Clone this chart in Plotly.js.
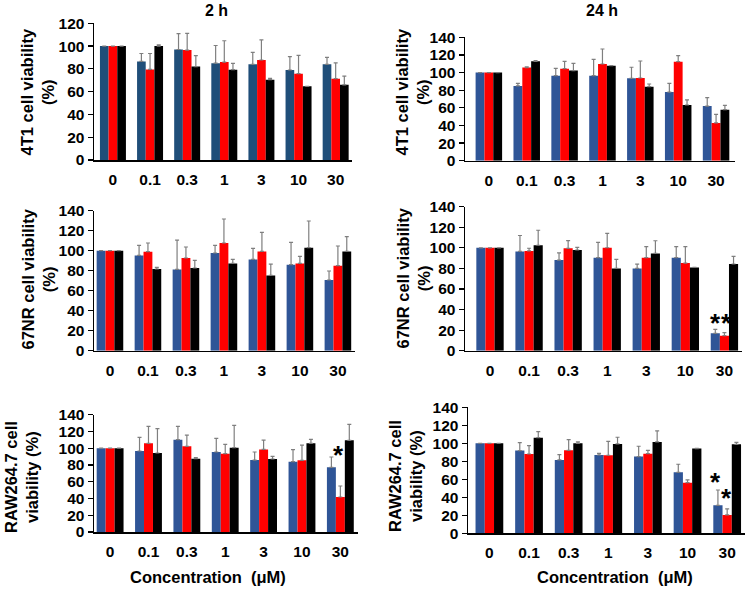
<!DOCTYPE html>
<html>
<head>
<meta charset="utf-8">
<script src="https://cdn.plot.ly/plotly-3.0.1.min.js"></script>
<style>html,body{margin:0;padding:0;background:#fff;}#chart{width:749px;height:591px;}</style>
</head>
<body>
<div id="chart"></div>
<script>
// ---------- data ----------
const categories = ['0', '0.1', '0.3', '1', '3', '10', '30'];

// 2 h, 4T1
const p1Blue = [100, 86.5, 97, 85, 84, 79, 84];
const p1BlueErr = [0, 7, 14, 15.5, 10.5, 11.7, 6];
const p1Red = [100, 79.5, 96.5, 86, 87.8, 75.8, 71.4];
const p1RedErr = [0, 14, 14.6, 18.7, 17.6, 16, 13.8];
const p1Black = [100, 100, 82, 79.3, 70.5, 64.7, 66];
const p1BlackErr = [0, 1, 9.7, 5.6, 1.2, 0, 7.6];

// 24 h, 4T1
const p2Blue = [100, 84.8, 96.5, 96.5, 93.5, 77.9, 62];
const p2BlueErr = [0, 3, 8.3, 18.5, 12.5, 9.8, 9.5];
const p2Red = [100, 105.6, 104.4, 109.7, 93.8, 112.4, 42.8];
const p2RedErr = [0, 1, 8.3, 17, 19.3, 6.8, 9.8];
const p2Black = [100, 112.7, 102.2, 107.8, 84, 63.2, 57.9];
const p2BlackErr = [0, 0.8, 8.3, 0, 3, 5.7, 4.9];

// 2 h, 67NR
const p3Blue = [100, 95.3, 81.3, 97.7, 91.3, 86, 70.7];
const p3BlueErr = [0, 10, 29.3, 7.7, 11, 22.3, 9];
const p3Red = [100, 99, 92.7, 107.7, 99.3, 87.3, 85];
const p3RedErr = [0, 8.7, 11, 24, 19, 7, 19.7];
const p3Black = [100, 81.7, 82.7, 87.3, 75.3, 103, 99.3];
const p3BlackErr = [0, 1.6, 7.6, 4, 11.3, 26.7, 14.7];

// 24 h, 67NR
const p4Blue = [100, 96.5, 88.1, 90.4, 80, 90.4, 16.9];
const p4BlueErr = [0, 15.5, 7.1, 14.9, 4.2, 10.7, 3.9];
const p4Red = [100, 97, 99.5, 100.1, 90.4, 85.2, 14.6];
const p4RedErr = [0, 2.6, 7.5, 14, 10.7, 15.9, 2.9];
const p4Black = [100, 102.5, 97.9, 80, 94.6, 81, 84.3];
const p4BlackErr = [0, 14.6, 2.6, 8.8, 12.3, 0, 7.5];

// 2 h, RAW264.7
const p5Blue = [100, 96.7, 110.2, 95.5, 85.9, 83.9, 77.2];
const p5BlueErr = [0, 16.3, 15.9, 16.3, 9.6, 14.3, 12.3];
const p5Red = [100, 105.8, 102.2, 93.5, 98.6, 85.5, 41.8];
const p5RedErr = [0, 20.3, 13.5, 11.1, 11.1, 18.3, 13.1];
const p5Black = [100, 94.3, 87.5, 100.6, 87.1, 105.8, 109.4];
const p5BlackErr = [0, 29, 1.2, 26.7, 3.2, 4.8, 19.1];

// 24 h, RAW264.7
const p6Blue = [100, 91.9, 81.5, 87, 85.2, 67.8, 31.1];
const p6BlueErr = [0, 8.9, 5.9, 1.9, 11.5, 8.9, 17];
const p6Red = [100, 88.1, 92.2, 86.7, 88.5, 56.3, 20.4];
const p6RedErr = [0, 9.3, 11.9, 15.5, 3.7, 3, 6.7];
const p6Black = [100, 106.3, 100, 99.3, 101.5, 94.1, 98.9];
const p6BlackErr = [0, 6.7, 1.5, 7.4, 12.2, 0.4, 2.2];

const yTitles = ['4T1 cell viability<br>(%)', '4T1 cell viability<br>(%)',
                 '67NR cell viability<br>(%)', '67NR cell viability<br>(%)',
                 'RAW264.7 cell<br>viability (%)', 'RAW264.7 cell<br>viability (%)'];
const colTitles = ['2 h', '24 h'];
const xTitle = 'Concentration  (\u03bcM)';
const yMax = [120, 140, 140, 140, 140, 140];

// significance stars: panel, category position, value
const stars = [
  {panel: 4, x: 5.78, y: 31.5},
  {panel: 4, x: 6.06, y: 31.5},
  {panel: 5, x: 5.95, y: 98},
  {panel: 6, x: 5.71, y: 63},
  {panel: 6, x: 5.99, y: 44.4}
];

// ---------- layout geometry (pixels) ----------
const W = 749, H = 591;
const panels = [
  {x0: 94, x1: 352, yt: 23.3, yb: 160, xr: [-0.51, 6.44]},
  {x0: 465, x1: 735, yt: 37.3, yb: 160.7, xr: [-0.63, 6.5]},
  {x0: 94, x1: 355, yt: 210.7, yb: 350.7, xr: [-0.42, 6.45]},
  {x0: 465, x1: 742, yt: 206.7, yb: 350.7, xr: [-0.64, 6.45]},
  {x0: 94, x1: 358, yt: 414.7, yb: 532, xr: [-0.42, 6.46]},
  {x0: 468, x1: 745, yt: 407.3, yb: 533.3, xr: [-0.54, 6.45]}
];
const blueCols = ['#1F4E79', '#2F5597', '#2F5597', '#2F5597', '#2F5597', '#2F5597'];

const seriesData = [
  [[p1Blue, p1BlueErr], [p1Red, p1RedErr], [p1Black, p1BlackErr]],
  [[p2Blue, p2BlueErr], [p2Red, p2RedErr], [p2Black, p2BlackErr]],
  [[p3Blue, p3BlueErr], [p3Red, p3RedErr], [p3Black, p3BlackErr]],
  [[p4Blue, p4BlueErr], [p4Red, p4RedErr], [p4Black, p4BlackErr]],
  [[p5Blue, p5BlueErr], [p5Red, p5RedErr], [p5Black, p5BlackErr]],
  [[p6Blue, p6BlueErr], [p6Red, p6RedErr], [p6Black, p6BlackErr]]
];

const FONT = 'Liberation Sans, Arial, sans-serif';
const traces = [];
const layout = {
  width: W, height: H,
  margin: {l: 0, r: 0, t: 0, b: 0},
  paper_bgcolor: '#ffffff', plot_bgcolor: '#ffffff',
  showlegend: false,
  barmode: 'group', bargap: 0.3, bargroupgap: 0,
  font: {family: FONT, color: '#000', size: 15},
  annotations: []
};

panels.forEach((p, i) => {
  const n = i + 1;
  const xa = 'x' + (n === 1 ? '' : n), ya = 'y' + (n === 1 ? '' : n);
  const colors = [blueCols[i], '#FF0000', '#000000'];
  seriesData[i].forEach((s, k) => {
    traces.push({
      type: 'bar', x: categories, y: s[0], xaxis: xa, yaxis: ya,
      marker: {color: colors[k], line: {width: 0}},
      offsetgroup: String(k),
      error_y: {type: 'data', symmetric: false, array: s[1],
                arrayminus: s[1].map(() => 0), color: '#7f7f7f', thickness: 1.2, width: 2},
      hoverinfo: 'y'
    });
  });
  const xKey = 'xaxis' + (n === 1 ? '' : n), yKey = 'yaxis' + (n === 1 ? '' : n);
  layout[xKey] = {
    domain: [p.x0 / W, p.x1 / W], anchor: ya, type: 'category',
    range: p.xr, showline: true, linecolor: '#000', linewidth: 1.5,
    ticks: '', showgrid: false, zeroline: false, fixedrange: true,
    tickfont: {family: FONT, size: 15.5, color: '#000', weight: 'bold'},
    ticklabelstandoff: 5
  };
  layout[yKey] = {
    domain: [1 - p.yb / H, 1 - p.yt / H], anchor: xa,
    range: [0, yMax[i]], dtick: 20, showline: true, linecolor: '#000', linewidth: 1.5,
    ticks: 'outside', ticklen: 5, tickwidth: 1.2, tickcolor: '#000',
    showgrid: false, zeroline: false, fixedrange: true,
    tickfont: {family: FONT, size: 15.5, color: '#000', weight: 'bold'}
  };
});

// y-axis titles
const yTitleX = [37.5, 412.5, 37.5, 412.5, 21, 405];
const yTitleY = [92, 92, 279, 278, 477, 476];
yTitles.forEach((t, i) => {
  layout.annotations.push({
    xref: 'paper', yref: 'paper', x: yTitleX[i] / W, y: 1 - yTitleY[i] / H,
    text: t, textangle: -90, showarrow: false, xanchor: 'center', yanchor: 'middle',
    font: {family: FONT, size: 16.5, color: '#000', weight: 'bold'}
  });
});
// column titles
const colTitleX = [216.7, 602];
colTitles.forEach((t, i) => {
  layout.annotations.push({
    xref: 'paper', yref: 'paper', x: colTitleX[i] / W, y: 1 - 11 / H,
    text: t, showarrow: false, xanchor: 'center', yanchor: 'middle',
    font: {family: FONT, size: 16, color: '#000', weight: 'bold'}
  });
});
// x-axis titles
[207.5, 615].forEach(cx => {
  layout.annotations.push({
    xref: 'paper', yref: 'paper', x: cx / W, y: 1 - 577 / H,
    text: xTitle, showarrow: false, xanchor: 'center', yanchor: 'middle',
    font: {family: FONT, size: 16.5, color: '#000', weight: 'bold'}
  });
});
// stars
stars.forEach(s => {
  const sfx = s.panel === 1 ? '' : s.panel;
  layout.annotations.push({
    xref: 'x' + sfx, yref: 'y' + sfx, x: s.x, y: s.y,
    text: '*', showarrow: false, xanchor: 'center', yanchor: 'middle', yshift: -5,
    font: {family: FONT, size: 26, color: '#000', weight: 'bold'}
  });
});

Plotly.newPlot('chart', traces, layout, {displayModeBar: false, staticPlot: true});
</script>
</body>
</html>
